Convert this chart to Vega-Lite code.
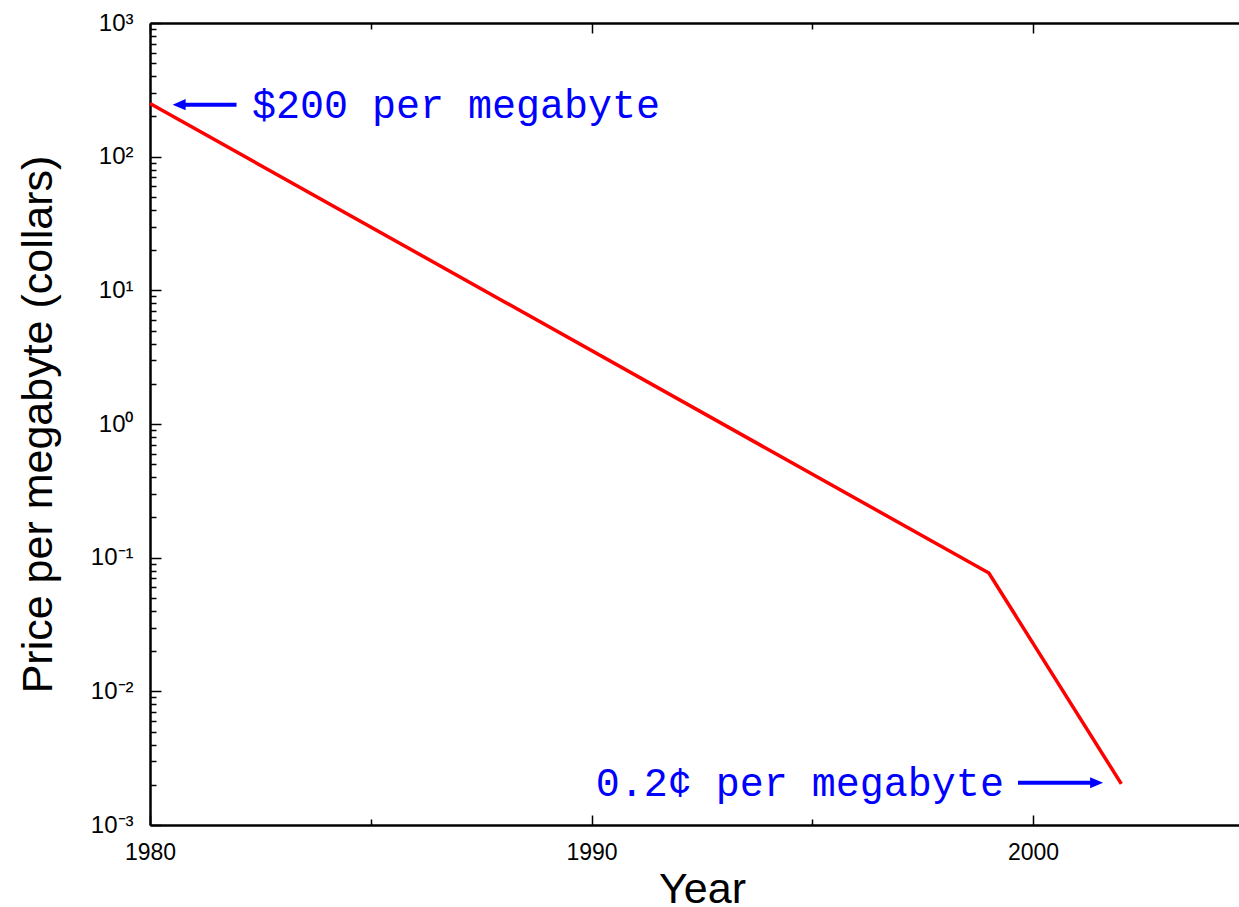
{
  "$schema": "https://vega.github.io/schema/vega-lite/v6.json",
  "width": 1089,
  "height": 802,
  "autosize": "none",
  "padding": {"left": 150, "top": 23, "right": 0, "bottom": 82},
  "background": "white",
  "config": {"view": {"stroke": null}, "font": "Liberation Sans"},
  "datasets": {
    "line": [
      {"year": 1980, "price": 250},
      {"year": 1999, "price": 0.0768},
      {"year": 2002, "price": 0.00203}
    ],
    "arrows": [
      {"year": 1980.66, "year2": 1981.96, "price": 245},
      {"year": 1999.66, "year2": 2001.44, "price": 0.00207}
    ],
    "heads": [
      {"year": 1980.66, "price": 245, "dir": "left"},
      {"year": 2001.44, "price": 0.00207, "dir": "right"}
    ],
    "labels": [
      {"year": 1982.31, "price": 245, "label": "$200 per megabyte", "side": "left"},
      {"year": 1999.34, "price": 0.00207, "label": "0.2¢ per megabyte", "side": "right"}
    ]
  },
  "encoding": {
    "y": {
      "field": "price",
      "type": "quantitative",
      "scale": {"type": "log", "domain": [0.001, 1000], "nice": false},
      "title": "Price per megabyte (collars)",
      "axis": {
        "values": [0.001,0.002,0.003,0.004,0.005,0.006,0.007,0.008,0.009,
                   0.01,0.02,0.03,0.04,0.05,0.06,0.07,0.08,0.09,
                   0.1,0.2,0.3,0.4,0.5,0.6,0.7,0.8,0.9,
                   1,2,3,4,5,6,7,8,9,
                   10,20,30,40,50,60,70,80,90,
                   100,200,300,400,500,600,700,800,900,1000],
        "labelExpr": "datum.value == 1000 ? '10³' : datum.value == 100 ? '10²' : datum.value == 10 ? '10¹' : datum.value == 1 ? '10⁰' : datum.value == 0.1 ? '10⁻¹' : datum.value == 0.01 ? '10⁻²' : datum.value == 0.001 ? '10⁻³' : ''",
        "labelFont": "Liberation Sans",
        "labelFontSize": 24,
        "labelColor": "black",
        "labelPadding": 28,
        "labelBaseline": "middle",
        "labelFlush": false,
        "labelOverlap": false,
        "labelBound": false,
        "tickSize": {"condition": {"test": "abs(log(datum.value)/LN10 - round(log(datum.value)/LN10)) < 0.001", "value": -11}, "value": -6},
        "tickColor": "black",
        "tickWidth": 1.5,
        "domainColor": "black",
        "domainWidth": 2.5,
        "grid": false,
        "titleFont": "Liberation Sans",
        "titleFontSize": 43,
        "titleFontWeight": "normal",
        "titleColor": "black",
        "titleAngle": -90,
        "titleX": -99,
        "titleY": 401,
        "titleAlign": "center",
        "titleBaseline": "alphabetic"
      }
    }
  },
  "layer": [
    {
      "data": {"name": "line"},
      "mark": {"type": "line", "color": "#ff0000", "strokeWidth": 3.5},
      "encoding": {
        "x": {
          "field": "year",
          "type": "quantitative",
          "scale": {"domain": [1980, 2004.665], "nice": false, "zero": false},
          "title": "Year",
          "axis": {
            "orient": "bottom",
            "values": [1980, 1985, 1990, 1995, 2000],
            "labelExpr": "datum.value % 10 == 0 ? format(datum.value, 'd') : ''",
            "labelFont": "Liberation Sans",
            "labelFontSize": 23,
            "labelColor": "black",
            "labelPadding": 26,
            "labelFlush": false,
            "labelOverlap": false,
            "tickSize": {"condition": {"test": "datum.value % 10 == 0", "value": -10}, "value": -6},
            "tickColor": "black",
            "tickWidth": 1.5,
            "domainColor": "black",
            "domainWidth": 2.5,
            "grid": false,
            "titleFont": "Liberation Sans",
            "titleFontSize": 43,
            "titleFontWeight": "normal",
            "titleColor": "black",
            "titleX": 552,
            "titleY": 77,
            "titleAlign": "center",
            "titleBaseline": "alphabetic"
          }
        }
      }
    },
    {
      "data": {"name": "arrows"},
      "mark": {"type": "rule", "color": "#0000ff", "strokeWidth": 4},
      "encoding": {
        "x": {
          "field": "year",
          "type": "quantitative",
          "axis": {
            "orient": "top",
            "values": [1980, 1985, 1990, 1995, 2000],
            "labels": false,
            "title": null,
            "tickSize": {"condition": {"test": "datum.value % 10 == 0", "value": -10}, "value": -6},
            "tickColor": "black",
            "tickWidth": 1.5,
            "domainColor": "black",
            "domainWidth": 2.5,
            "grid": false
          }
        },
        "x2": {"field": "year2"}
      }
    },
    {
      "data": {"name": "heads"},
      "mark": {"type": "point", "filled": true, "color": "#0000ff", "opacity": 1, "strokeWidth": 0},
      "encoding": {
        "x": {"field": "year", "type": "quantitative", "axis": null},
        "shape": {
          "field": "dir",
          "type": "nominal",
          "scale": {"domain": ["left", "right"], "range": ["M -1 0 L 1 -0.85 L 1 0.85 Z", "M 1 0 L -1 -0.85 L -1 0.85 Z"]},
          "legend": null
        },
        "size": {"value": 169}
      }
    },
    {
      "data": {"name": "labels"},
      "transform": [{"filter": "datum.side == 'left'"}],
      "mark": {"type": "text", "font": "Liberation Mono", "fontSize": 40, "color": "#0000ff", "align": "left", "baseline": "alphabetic", "dy": 13},
      "encoding": {
        "x": {"field": "year", "type": "quantitative", "axis": null},
        "text": {"field": "label"}
      }
    },
    {
      "data": {"name": "labels"},
      "transform": [{"filter": "datum.side == 'right'"}],
      "mark": {"type": "text", "font": "Liberation Mono", "fontSize": 40, "color": "#0000ff", "align": "right", "baseline": "alphabetic", "dy": 13},
      "encoding": {
        "x": {"field": "year", "type": "quantitative", "axis": null},
        "text": {"field": "label"}
      }
    }
  ],
  "resolve": {"axis": {"x": "independent"}}
}
